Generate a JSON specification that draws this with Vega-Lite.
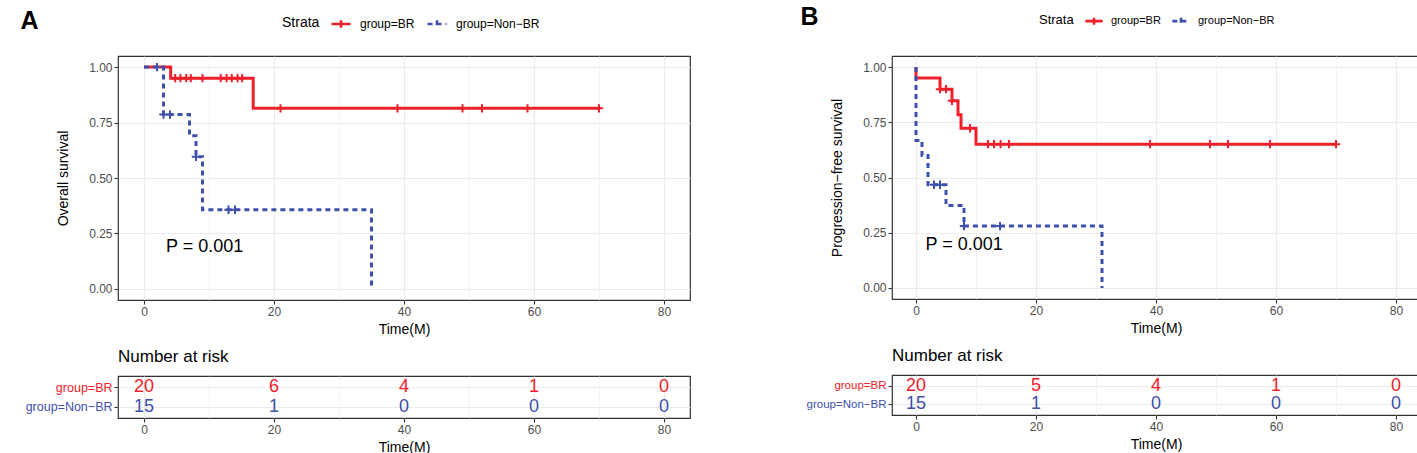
{
  "$schema": "https://vega.github.io/schema/vega-lite/v6.json",
  "background": "white",
  "padding": {"left": 20, "top": 5, "right": 0, "bottom": 0},
  "datasets": {
    "os_curve": [
      {"group": "group=BR", "i": 0, "time": 0, "surv": 1},
      {"group": "group=BR", "i": 1, "time": 4.1, "surv": 0.95},
      {"group": "group=BR", "i": 2, "time": 16.8, "surv": 0.814},
      {"group": "group=BR", "i": 3, "time": 70, "surv": 0.814},
      {"group": "group=Non−BR", "i": 0, "time": 0, "surv": 1},
      {"group": "group=Non−BR", "i": 1, "time": 3, "surv": 0.786},
      {"group": "group=Non−BR", "i": 2, "time": 7, "surv": 0.69},
      {"group": "group=Non−BR", "i": 3, "time": 8, "surv": 0.596},
      {"group": "group=Non−BR", "i": 4, "time": 9, "surv": 0.357},
      {"group": "group=Non−BR", "i": 5, "time": 35, "surv": 0}
    ],
    "os_censor": [
      {"group": "group=BR", "time": 4.8, "surv": 0.95},
      {"group": "group=BR", "time": 5.6, "surv": 0.95},
      {"group": "group=BR", "time": 6.5, "surv": 0.95},
      {"group": "group=BR", "time": 7.2, "surv": 0.95},
      {"group": "group=BR", "time": 9, "surv": 0.95},
      {"group": "group=BR", "time": 11.8, "surv": 0.95},
      {"group": "group=BR", "time": 12.7, "surv": 0.95},
      {"group": "group=BR", "time": 13.5, "surv": 0.95},
      {"group": "group=BR", "time": 14.4, "surv": 0.95},
      {"group": "group=BR", "time": 15.1, "surv": 0.95},
      {"group": "group=BR", "time": 21, "surv": 0.814},
      {"group": "group=BR", "time": 39, "surv": 0.814},
      {"group": "group=BR", "time": 49, "surv": 0.814},
      {"group": "group=BR", "time": 52, "surv": 0.814},
      {"group": "group=BR", "time": 59, "surv": 0.814},
      {"group": "group=BR", "time": 70, "surv": 0.814},
      {"group": "group=Non−BR", "time": 2, "surv": 1},
      {"group": "group=Non−BR", "time": 3, "surv": 0.786},
      {"group": "group=Non−BR", "time": 4, "surv": 0.786},
      {"group": "group=Non−BR", "time": 8, "surv": 0.596},
      {"group": "group=Non−BR", "time": 13, "surv": 0.357},
      {"group": "group=Non−BR", "time": 14, "surv": 0.357}
    ],
    "os_risk": [
      {"group": "group=BR", "time": 0, "n": 20},
      {"group": "group=BR", "time": 20, "n": 6},
      {"group": "group=BR", "time": 40, "n": 4},
      {"group": "group=BR", "time": 60, "n": 1},
      {"group": "group=BR", "time": 80, "n": 0},
      {"group": "group=Non−BR", "time": 0, "n": 15},
      {"group": "group=Non−BR", "time": 20, "n": 1},
      {"group": "group=Non−BR", "time": 40, "n": 0},
      {"group": "group=Non−BR", "time": 60, "n": 0},
      {"group": "group=Non−BR", "time": 80, "n": 0}
    ],
    "pfs_curve": [
      {"group": "group=BR", "i": 0, "time": 0, "surv": 1},
      {"group": "group=BR", "i": 1, "time": 0, "surv": 0.95},
      {"group": "group=BR", "i": 2, "time": 4, "surv": 0.9},
      {"group": "group=BR", "i": 3, "time": 6, "surv": 0.847},
      {"group": "group=BR", "i": 4, "time": 7, "surv": 0.784},
      {"group": "group=BR", "i": 5, "time": 7.5, "surv": 0.723},
      {"group": "group=BR", "i": 6, "time": 10, "surv": 0.651},
      {"group": "group=BR", "i": 7, "time": 70, "surv": 0.651},
      {"group": "group=Non−BR", "i": 0, "time": 0, "surv": 1},
      {"group": "group=Non−BR", "i": 1, "time": 0, "surv": 0.667},
      {"group": "group=Non−BR", "i": 2, "time": 1, "surv": 0.6},
      {"group": "group=Non−BR", "i": 3, "time": 2, "surv": 0.467},
      {"group": "group=Non−BR", "i": 4, "time": 5, "surv": 0.373},
      {"group": "group=Non−BR", "i": 5, "time": 8, "surv": 0.28},
      {"group": "group=Non−BR", "i": 6, "time": 31, "surv": 0}
    ],
    "pfs_censor": [
      {"group": "group=BR", "time": 4, "surv": 0.9},
      {"group": "group=BR", "time": 5, "surv": 0.9},
      {"group": "group=BR", "time": 6, "surv": 0.847},
      {"group": "group=BR", "time": 9, "surv": 0.723},
      {"group": "group=BR", "time": 12, "surv": 0.651},
      {"group": "group=BR", "time": 13, "surv": 0.651},
      {"group": "group=BR", "time": 14.1, "surv": 0.651},
      {"group": "group=BR", "time": 15.5, "surv": 0.651},
      {"group": "group=BR", "time": 39, "surv": 0.651},
      {"group": "group=BR", "time": 49, "surv": 0.651},
      {"group": "group=BR", "time": 52, "surv": 0.651},
      {"group": "group=BR", "time": 59, "surv": 0.651},
      {"group": "group=BR", "time": 70, "surv": 0.651},
      {"group": "group=Non−BR", "time": 3, "surv": 0.467},
      {"group": "group=Non−BR", "time": 4, "surv": 0.467},
      {"group": "group=Non−BR", "time": 8, "surv": 0.28},
      {"group": "group=Non−BR", "time": 14, "surv": 0.28}
    ],
    "pfs_risk": [
      {"group": "group=BR", "time": 0, "n": 20},
      {"group": "group=BR", "time": 20, "n": 5},
      {"group": "group=BR", "time": 40, "n": 4},
      {"group": "group=BR", "time": 60, "n": 1},
      {"group": "group=BR", "time": 80, "n": 0},
      {"group": "group=Non−BR", "time": 0, "n": 15},
      {"group": "group=Non−BR", "time": 20, "n": 1},
      {"group": "group=Non−BR", "time": 40, "n": 0},
      {"group": "group=Non−BR", "time": 60, "n": 0},
      {"group": "group=Non−BR", "time": 80, "n": 0}
    ]
  },
  "hconcat": [
    {
      "title": {"text": "A", "anchor": "start", "frame": "bounds", "fontSize": 25, "fontWeight": "bold", "dx": -4, "dy": 22, "offset": 0},
      "resolve": {"scale": {"color": "independent", "strokeDash": "independent", "x": "independent", "y": "independent"}, "legend": {"color": "independent", "strokeDash": "independent"}},
      "spacing": 10,
      "vconcat": [
        {
          "width": 572,
          "height": 244,
          "layer": [
            {
              "data": {"name": "os_curve"},
              "mark": {"type": "line", "interpolate": "step-after", "strokeWidth": 3},
              "encoding": {
                "x": {"field": "time", "type": "quantitative", "scale": {"domain": [-4, 84], "nice": false, "zero": false},
                  "axis": {"title": "Time(M)", "values": [0, 10, 20, 30, 40, 50, 60, 70, 80], "labelExpr": "datum.value % 20 == 0 ? datum.label : ''",
                    "tickOpacity": {"condition": {"test": "datum.value % 20 != 0", "value": 0}, "value": 1},
                    "gridWidth": {"condition": {"test": "datum.value % 20 != 0", "value": 0.6}, "value": 1.1}}},
                "y": {"field": "surv", "type": "quantitative", "scale": {"domain": [-0.05, 1.05], "nice": false, "zero": false},
                  "axis": {"title": "Overall survival", "titlePadding": 18, "format": ".2f", "values": [0, 0.125, 0.25, 0.375, 0.5, 0.625, 0.75, 0.875, 1],
                    "labelExpr": "(datum.value * 4) % 1 == 0 ? datum.label : ''",
                    "tickOpacity": {"condition": {"test": "(datum.value * 4) % 1 != 0", "value": 0}, "value": 1},
                    "gridWidth": {"condition": {"test": "(datum.value * 4) % 1 != 0", "value": 0.6}, "value": 1.1}}},
                "order": {"field": "i"},
                "color": {"field": "group", "type": "nominal", "scale": {"domain": ["group=BR", "group=Non−BR"], "range": ["#F0202A", "#3D50AC"]},
                  "legend": {"title": "Strata", "orient": "none", "legendX": 164, "legendY": -43, "direction": "horizontal", "titleOrient": "left"}},
                "strokeDash": {"field": "group", "type": "nominal", "scale": {"domain": ["group=BR", "group=Non−BR"], "range": [[1, 0], [5, 4]]},
                  "legend": {"title": "Strata", "orient": "none", "legendX": 164, "legendY": -43, "direction": "horizontal", "titleOrient": "left"}}
              }
            },
            {
              "data": {"name": "os_censor"},
              "mark": {"type": "point", "shape": "M-1,0H1M0,-1V1", "filled": false, "size": 70, "strokeWidth": 2, "opacity": 1},
              "encoding": {
                "x": {"field": "time", "type": "quantitative"},
                "y": {"field": "surv", "type": "quantitative"},
                "color": {"field": "group", "type": "nominal"}
              }
            },
            {
              "data": {"values": [{"p": "P = 0.001"}]},
              "mark": {"type": "text", "align": "left", "baseline": "middle", "fontSize": 18, "color": "black"},
              "encoding": {
                "x": {"datum": 3.4},
                "y": {"datum": 0.19},
                "text": {"field": "p"}
              }
            }
          ]
        },
        {
          "width": 572,
          "height": 42,
          "data": {"name": "os_risk"},
          "title": {"text": "Number at risk", "anchor": "start", "frame": "group", "fontSize": 17, "fontWeight": "normal", "offset": 10},
          "mark": {"type": "text", "fontSize": 18},
          "encoding": {
            "x": {"field": "time", "type": "quantitative", "scale": {"domain": [-4, 84], "nice": false, "zero": false},
              "axis": {"title": "Time(M)", "values": [0, 10, 20, 30, 40, 50, 60, 70, 80], "labelExpr": "datum.value % 20 == 0 ? datum.label : ''",
                "tickOpacity": {"condition": {"test": "datum.value % 20 != 0", "value": 0}, "value": 1},
                "gridWidth": {"condition": {"test": "datum.value % 20 != 0", "value": 0.6}, "value": 1.1}}},
            "y": {"field": "group", "type": "nominal", "sort": ["group=BR", "group=Non−BR"], "scale": {"type": "point", "padding": 0.6},
              "axis": {"title": null, "labelFontSize": 12.5, "labelColor": {"condition": {"test": "datum.value == 'group=BR'", "value": "#F0202A"}, "value": "#3D50AC"}}},
            "color": {"field": "group", "type": "nominal", "scale": {"domain": ["group=BR", "group=Non−BR"], "range": ["#F0202A", "#3D50AC"]}, "legend": null},
            "text": {"field": "n", "type": "quantitative"}
          }
        }
      ]
    },
    {
      "title": {"text": "B", "anchor": "start", "frame": "bounds", "fontSize": 25, "fontWeight": "bold", "dx": -5, "dy": 20, "offset": 0},
      "resolve": {"scale": {"color": "independent", "strokeDash": "independent", "x": "independent", "y": "independent"}, "legend": {"color": "independent", "strokeDash": "independent"}},
      "spacing": 10,
      "vconcat": [
        {
          "width": 528,
          "height": 243,
          "layer": [
            {
              "data": {"name": "pfs_curve"},
              "mark": {"type": "line", "interpolate": "step-after", "strokeWidth": 3},
              "encoding": {
                "x": {"field": "time", "type": "quantitative", "scale": {"domain": [-4, 84], "nice": false, "zero": false},
                  "axis": {"title": "Time(M)", "values": [0, 10, 20, 30, 40, 50, 60, 70, 80], "labelExpr": "datum.value % 20 == 0 ? datum.label : ''",
                    "tickOpacity": {"condition": {"test": "datum.value % 20 != 0", "value": 0}, "value": 1},
                    "gridWidth": {"condition": {"test": "datum.value % 20 != 0", "value": 0.6}, "value": 1.1}}},
                "y": {"field": "surv", "type": "quantitative", "scale": {"domain": [-0.05, 1.05], "nice": false, "zero": false},
                  "axis": {"title": "Progression−free survival", "titlePadding": 18, "format": ".2f", "values": [0, 0.125, 0.25, 0.375, 0.5, 0.625, 0.75, 0.875, 1],
                    "labelExpr": "(datum.value * 4) % 1 == 0 ? datum.label : ''",
                    "tickOpacity": {"condition": {"test": "(datum.value * 4) % 1 != 0", "value": 0}, "value": 1},
                    "gridWidth": {"condition": {"test": "(datum.value * 4) % 1 != 0", "value": 0.6}, "value": 1.1}}},
                "order": {"field": "i"},
                "color": {"field": "group", "type": "nominal", "scale": {"domain": ["group=BR", "group=Non−BR"], "range": ["#F0202A", "#3D50AC"]},
                  "legend": {"title": "Strata", "orient": "none", "legendX": 147, "legendY": -45, "direction": "horizontal", "titleOrient": "left",
                    "titleFontSize": 13, "labelFontSize": 11, "symbolSize": 300, "labelOffset": 7, "columnPadding": 6}},
                "strokeDash": {"field": "group", "type": "nominal", "scale": {"domain": ["group=BR", "group=Non−BR"], "range": [[1, 0], [5, 4]]},
                  "legend": {"title": "Strata", "orient": "none", "legendX": 147, "legendY": -45, "direction": "horizontal", "titleOrient": "left",
                    "titleFontSize": 13, "labelFontSize": 11, "symbolSize": 300, "labelOffset": 7, "columnPadding": 6}}
              }
            },
            {
              "data": {"name": "pfs_censor"},
              "mark": {"type": "point", "shape": "M-1,0H1M0,-1V1", "filled": false, "size": 70, "strokeWidth": 2, "opacity": 1},
              "encoding": {
                "x": {"field": "time", "type": "quantitative"},
                "y": {"field": "surv", "type": "quantitative"},
                "color": {"field": "group", "type": "nominal"}
              }
            },
            {
              "data": {"values": [{"p": "P = 0.001"}]},
              "mark": {"type": "text", "align": "left", "baseline": "middle", "fontSize": 18, "color": "black"},
              "encoding": {
                "x": {"datum": 1.6},
                "y": {"datum": 0.195},
                "text": {"field": "p"}
              }
            }
          ]
        },
        {
          "width": 528,
          "height": 40,
          "data": {"name": "pfs_risk"},
          "title": {"text": "Number at risk", "anchor": "start", "frame": "group", "fontSize": 17, "fontWeight": "normal", "offset": 10},
          "mark": {"type": "text", "fontSize": 18},
          "encoding": {
            "x": {"field": "time", "type": "quantitative", "scale": {"domain": [-4, 84], "nice": false, "zero": false},
              "axis": {"title": "Time(M)", "values": [0, 10, 20, 30, 40, 50, 60, 70, 80], "labelExpr": "datum.value % 20 == 0 ? datum.label : ''",
                "tickOpacity": {"condition": {"test": "datum.value % 20 != 0", "value": 0}, "value": 1},
                "gridWidth": {"condition": {"test": "datum.value % 20 != 0", "value": 0.6}, "value": 1.1}}},
            "y": {"field": "group", "type": "nominal", "sort": ["group=BR", "group=Non−BR"], "scale": {"type": "point", "padding": 0.6},
              "axis": {"title": null, "labelFontSize": 11.5, "labelColor": {"condition": {"test": "datum.value == 'group=BR'", "value": "#F0202A"}, "value": "#3D50AC"}}},
            "color": {"field": "group", "type": "nominal", "scale": {"domain": ["group=BR", "group=Non−BR"], "range": ["#F0202A", "#3D50AC"]}, "legend": null},
            "text": {"field": "n", "type": "quantitative"}
          }
        }
      ]
    }
  ],
  "spacing": 109,
  "config": {
    "font": "Liberation Sans, Arial, sans-serif",
    "view": {"stroke": "#333333", "strokeWidth": 1.2},
    "axis": {"domain": false, "grid": true, "gridColor": "#EBEBEB", "tickColor": "#333333", "tickSize": 4, "tickWidth": 1.1,
      "labelColor": "#4D4D4D", "labelFontSize": 12, "labelPadding": 2, "titleFontSize": 14, "titleFontWeight": "normal", "titleColor": "#000000", "titlePadding": 5},
    "legend": {"titleFontSize": 14, "titleFontWeight": "normal", "titleColor": "#000000", "titlePadding": 10, "labelFontSize": 12, "labelColor": "#000000",
      "symbolType": "M-1,0H1M0,-0.4V0.4", "symbolSize": 361, "symbolStrokeWidth": 2.6, "labelOffset": 8, "columnPadding": 7},
    "title": {"color": "#000000", "font": "Liberation Sans, Arial, sans-serif"}
  }
}
